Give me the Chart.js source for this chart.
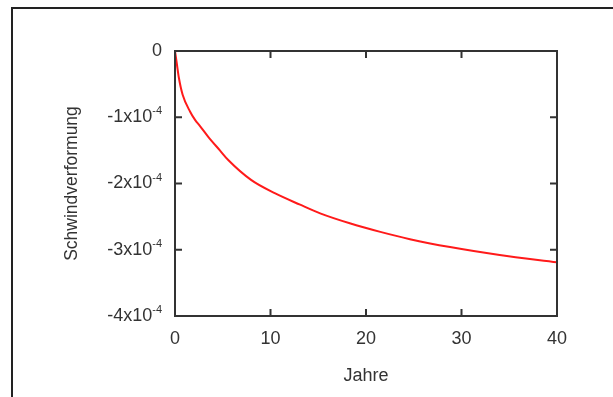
<!DOCTYPE html>
<html>
<head>
<meta charset="utf-8">
<script src="https://cdn.jsdelivr.net/npm/chart.js@4"></script>
<style>
  html, body { margin: 0; padding: 0; background: #fff; overflow: hidden; }
  #frame {
    position: absolute; left: 11px; top: 7px; width: 700px; height: 500px;
    border-left: 2px solid #222; border-top: 2px solid #222;
  }
  #wrap { position: absolute; left: 0; top: 0; width: 613px; height: 397px; }
</style>
</head>
<body>
<div id="frame"></div>
<div id="wrap"><canvas id="chart" width="613" height="397"></canvas></div>
<script>
// Jahre (x) und Schwindverformung in 1e-4 (y)
const years = [0, 0.2, 0.4, 0.8, 1.6, 2.1, 2.6, 3.5, 4.7, 5.6, 8, 10.5, 13.1, 15.2, 18.3, 21.5, 24.6, 28.8, 34, 40];
const shrink = [0, -0.2, -0.4, -0.66, -0.92, -1.04, -1.13, -1.30, -1.50, -1.65, -1.95, -2.15, -2.32, -2.45, -2.60, -2.73, -2.84, -2.96, -3.08, -3.19];

const xTicks = [0, 10, 20, 30, 40];
const yTicks = [0, -1, -2, -3, -4]; // Vielfache von 1e-4
const SCALE = 1e-4;

const FONT = 'Arial, "Liberation Sans", sans-serif';
const TEXT = '#333';
const AXIS = '#333';

// Rahmen + Teilstriche nach innen + y-Beschriftung mit Hochzahl
const framePlugin = {
    id: 'frame',
    afterDraw(chart) {
        const { ctx, chartArea: a } = chart;
        const xs = chart.scales.x, ys = chart.scales.y;
        const len = 7;
        ctx.save();
        ctx.strokeStyle = AXIS;
        ctx.lineWidth = 2;
        ctx.strokeRect(a.left, a.top, a.right - a.left, a.bottom - a.top);

        ctx.beginPath();
        xTicks.slice(1, -1).forEach(t => {
            const px = xs.getPixelForValue(t);
            ctx.moveTo(px, a.bottom); ctx.lineTo(px, a.bottom - len);
            ctx.moveTo(px, a.top); ctx.lineTo(px, a.top + len);
        });
        yTicks.slice(1, -1).forEach(t => {
            const py = ys.getPixelForValue(t * SCALE);
            ctx.moveTo(a.left, py); ctx.lineTo(a.left + len, py);
            ctx.moveTo(a.right, py); ctx.lineTo(a.right - len, py);
        });
        ctx.stroke();

        // y-Achse: "-1x10" + hochgestelltes "-4"
        const right = a.left - 13;
        ctx.fillStyle = TEXT;
        ctx.textBaseline = 'middle';
        yTicks.forEach(t => {
            const py = ys.getPixelForValue(t * SCALE);
            if (t === 0) {
                ctx.font = '18px ' + FONT;
                ctx.textAlign = 'right';
                ctx.fillText('0', right, py);
                return;
            }
            ctx.font = '11px ' + FONT;
            const exp = '-4';
            const ew = ctx.measureText(exp).width;
            ctx.textAlign = 'left';
            ctx.fillText(exp, right - ew, py - 6);
            ctx.font = '18px ' + FONT;
            ctx.textAlign = 'right';
            ctx.fillText(t + 'x10', right - ew, py);
        });
        ctx.restore();
    }
};

new Chart(document.getElementById('chart'), {
    type: 'line',
    data: {
        datasets: [{
            data: years.map((y, i) => ({ x: y, y: shrink[i] * SCALE })),
            borderColor: '#ff1a1a',
            borderWidth: 2,
            pointRadius: 0,
            fill: false,
            cubicInterpolationMode: 'monotone'
        }]
    },
    options: {
        responsive: false,
        animation: false,
        layout: { padding: { left: 62, top: 51, right: 56, bottom: 10 } },
        plugins: { legend: { display: false }, tooltip: { enabled: false } },
        scales: {
            x: {
                type: 'linear',
                min: 0, max: 40,
                afterBuildTicks: s => { s.ticks = xTicks.map(v => ({ value: v })); },
                grid: { display: false, drawTicks: false },
                border: { display: false },
                ticks: { color: TEXT, font: { size: 18, family: FONT }, padding: 12, maxRotation: 0 },
                title: { display: true, text: 'Jahre', color: TEXT, font: { size: 18, family: FONT }, padding: 0 },
                afterFit: s => { s.height = 71; }
            },
            y: {
                min: -4 * SCALE, max: 0,
                afterBuildTicks: s => { s.ticks = yTicks.map(v => ({ value: v * SCALE })); },
                grid: { display: false, drawTicks: false },
                border: { display: false },
                ticks: { display: false },
                title: { display: true, text: 'Schwindverformung', color: TEXT, font: { size: 17.5, family: FONT }, padding: 0 },
                afterFit: s => { s.width = 113; }
            }
        }
    },
    plugins: [framePlugin]
});
</script>
</body>
</html>
